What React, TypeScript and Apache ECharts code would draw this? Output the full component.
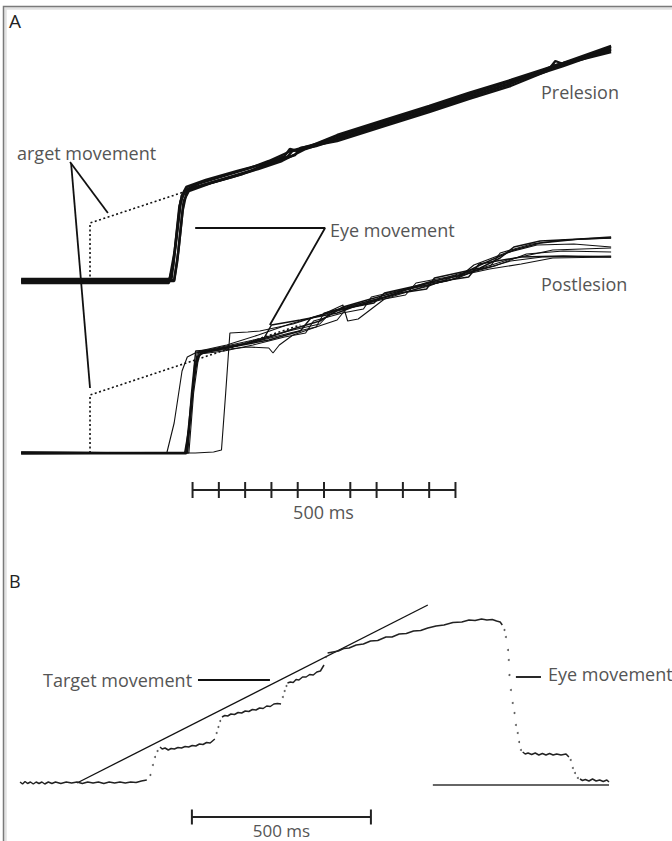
import React, { useEffect, useRef } from "react";
import * as echarts from "echarts";

// ---------- Panel A (time in ms from target onset, position in deg) ----------
const PRE_TARGET: number[][] = [[0, 0], [0, 5.8], [190, 9.1]];
const PRE_EYE: number[][][] = [
  [[-131, 0.1], [60, 0], [160, 0], [166, 2], [176, 7], [185, 9.2], [210, 9.8], [260, 10.6], [304, 11.3], [340, 12.0], [382, 13.0], [430, 13.7], [470, 14.5], [560, 16.0], [645, 17.4], [720, 18.7], [800, 20.0], [900, 21.7], [991, 23.4]],
  [[-131, -0.1], [60, -0.1], [150, 0], [158, 1.5], [170, 7.5], [180, 9.0], [210, 9.5], [260, 10.3], [304, 11.0], [350, 12.0], [375, 12.4], [385, 13.0], [430, 13.5], [470, 14.2], [560, 15.7], [645, 17.1], [720, 18.4], [800, 19.7], [880, 21.5], [991, 23.1]],
  [[-131, 0], [160, 0.1], [168, 3], [178, 8], [188, 9.0], [230, 9.8], [290, 10.7], [360, 12.1], [390, 12.6], [400, 13.3], [470, 14.0], [560, 15.5], [645, 16.9], [720, 18.2], [800, 19.5], [870, 21.0], [885, 22.0], [900, 21.7], [991, 22.9]],
  [[-131, 0.2], [155, 0.2], [164, 4], [174, 8.5], [183, 9.4], [220, 10.1], [280, 11.0], [330, 11.7], [370, 12.5], [380, 13.2], [395, 13.0], [470, 14.6], [560, 16.1], [645, 17.5], [720, 18.8], [800, 20.1], [900, 21.8], [991, 23.5]],
  [[-131, -0.2], [150, -0.2], [161, 3], [172, 8], [182, 9.1], [215, 9.6], [270, 10.4], [320, 11.2], [365, 12.0], [410, 13.2], [470, 14.3], [560, 15.8], [645, 17.2], [720, 18.5], [800, 19.8], [900, 21.5], [991, 23.2]],
];
const POST_TARGET: number[][] = [[0, 0], [0, 5.8], [400, 12.8]];
const POST_EYE: number[][][] = [
  [[-131, 0], [180, 0], [190, 3], [200, 8.5], [211, 10.1], [242, 10.4], [300, 11.0], [342, 11.6], [386, 12.4], [437, 13.2], [481, 14.6], [527, 15.3], [590, 16.2], [645, 17.1], [700, 17.7], [742, 18.8], [806, 20.3], [856, 21.0], [932, 21.4], [991, 21.5]],
  [[-131, 0.1], [182, 0], [192, 5], [203, 9.6], [215, 10.0], [270, 10.6], [340, 11.3], [400, 12.2], [420, 13.5], [470, 14.3], [540, 15.0], [560, 16.0], [645, 17.0], [720, 17.6], [740, 18.9], [820, 19.6], [900, 19.7], [991, 19.6]],
  [[-131, 0], [184, 0], [193, 6], [201, 10.2], [230, 10.3], [290, 10.9], [330, 11.4], [345, 12.8], [400, 13.3], [470, 14.0], [500, 14.6], [590, 16.0], [640, 16.4], [655, 17.5], [742, 18.5], [780, 19.5], [806, 20.6], [856, 21.2], [932, 21.4], [991, 21.6]],
  [[-131, -0.1], [146, 0], [160, 3], [175, 8.2], [185, 9.6], [200, 10.0], [260, 10.5], [320, 11.2], [380, 12.0], [430, 12.6], [445, 14.0], [500, 14.8], [560, 15.6], [620, 16.6], [700, 17.9], [760, 18.6], [800, 19.2], [860, 19.6], [991, 19.7]],
  [[-131, 0], [200, 0], [235, 0.1], [250, 0.3], [258, 6], [266, 12.0], [300, 12.1], [323, 12.2], [350, 12.5], [386, 12.9], [440, 13.8], [481, 14.8], [490, 13.2], [510, 13.4], [560, 15.4], [645, 16.8], [700, 17.5], [745, 18.5], [800, 19.4], [880, 20.3], [991, 20.5]],
  [[-131, 0], [186, 0.1], [195, 6], [206, 10.0], [250, 10.3], [300, 10.6], [340, 10.5], [348, 10.0], [360, 10.8], [386, 11.8], [430, 12.6], [470, 13.3], [490, 14.6], [560, 15.6], [645, 16.7], [690, 17.6], [760, 18.4], [820, 18.9], [880, 19.5], [991, 19.6]],
  [[-131, 0.1], [185, 0], [196, 7], [204, 10.1], [250, 10.6], [320, 11.4], [386, 12.3], [437, 12.9], [460, 14.2], [527, 15.0], [600, 16.3], [660, 17.0], [700, 17.5], [730, 18.8], [790, 20.0], [850, 20.8], [920, 20.9], [991, 20.6]],
  [[-131, 0], [188, 0], [197, 6], [208, 10.2], [260, 10.8], [320, 11.8], [380, 12.9], [440, 13.8], [500, 14.6], [560, 15.4], [600, 15.8], [620, 17.0], [700, 17.8], [760, 18.6], [780, 20.0], [840, 20.9], [900, 21.3], [991, 21.5]],
  [[-131, -0.1], [183, -0.1], [191, 4], [199, 9.0], [209, 9.9], [255, 10.2], [310, 10.8], [370, 11.6], [410, 12.0], [425, 13.2], [480, 14.0], [520, 14.4], [535, 15.6], [600, 16.4], [680, 17.2], [720, 18.0], [770, 18.7], [830, 19.9], [900, 20.2], [991, 20.1]],
];
const POST_OFFSET = -17.2;
const SCALE_A_TICKS = [195, 245, 295, 345, 395, 445, 495, 545, 595, 645, 695];
const SCALE_A_LEVEL = -20.9;

// Leader lines of panel A (data coordinates)
const LEAD_A_TARGET: number[][][] = [
  [[-38, 11.9], [34, 6.8]],
  [[-36, 11.8], [0, -10.7]],
];
const LEAD_A_EYE: number[][] = [[200, 5.3], [447, 5.3], [342, -4.4]];

// ---------- Panel B ----------
const B_TARGET_RAMP: number[][] = [[0, 0], [980, 17.8]];
const B_TARGET_OFF: number[][] = [[994, -0.2], [1486, -0.2]];
const B_EYE_SLOW: number[][][] = [
  [[-159, 0.1], [-152, -0.1], [-145, 0.15], [-138, -0.05], [-130, 0.1], [-122, -0.1], [-114, 0.1], [-106, -0.05], [-98, 0.1], [-90, -0.1], [-80, 0.1], [-70, -0.05], [-60, 0.1], [-45, -0.05], [-30, 0.1], [-15, 0], [0, 0.1], [15, -0.05], [30, 0.1], [45, 0], [60, 0.1], [75, -0.05], [90, 0.1], [105, 0], [120, 0.1], [135, 0], [150, 0.1], [165, 0.05], [180, 0.2], [195, 0.3]],
  [[232, 3.6], [238, 3.4], [246, 3.5], [255, 3.3], [263, 3.45], [272, 3.4], [282, 3.55], [292, 3.5], [302, 3.65], [312, 3.6], [322, 3.75], [332, 3.7], [342, 3.9], [352, 3.85], [362, 4.05], [372, 4.0], [385, 4.4]],
  [[405, 6.6], [413, 6.75], [421, 6.7], [430, 6.9], [440, 6.85], [450, 7.05], [460, 7.0], [470, 7.2], [480, 7.15], [490, 7.35], [500, 7.3], [510, 7.5], [520, 7.45], [530, 7.7], [540, 7.65], [550, 7.9], [560, 7.95], [570, 7.9]],
  [[588, 10.0], [596, 10.1], [604, 10.05], [612, 10.35], [620, 10.3], [630, 10.6], [640, 10.6], [650, 10.85], [660, 10.8], [670, 11.1], [680, 11.2], [690, 11.8]],
  [[700, 13.0], [715, 13.1], [730, 13.2], [745, 13.45], [760, 13.5], [780, 13.8], [800, 13.9], [820, 14.2], [840, 14.25], [863, 14.6], [880, 14.6], [900, 14.9], [920, 14.95], [940, 15.2], [960, 15.25], [980, 15.5], [1003, 15.7], [1025, 15.8], [1050, 16.05], [1075, 16.1], [1095, 16.3], [1112, 16.25], [1130, 16.4], [1145, 16.3], [1160, 16.35], [1172, 16.2], [1182, 16.1], [1188, 15.8]],
  [[1245, 3.1], [1252, 2.9], [1260, 3.0], [1270, 2.85], [1280, 3.0], [1290, 2.8], [1300, 2.95], [1310, 2.8], [1320, 2.95], [1330, 2.8], [1340, 2.9], [1352, 2.8], [1366, 2.9], [1374, 2.6]],
  [[1405, 0.4], [1412, 0.25], [1420, 0.35], [1430, 0.2], [1440, 0.4], [1450, 0.2], [1460, 0.3], [1470, 0.15], [1480, 0.3], [1486, 0.1]],
];
const B_EYE_FAST: number[][] = [
  [205, 0.8], [212, 1.8], [218, 2.6], [225, 3.2],
  [390, 5.0], [395, 5.6], [400, 6.2],
  [575, 8.6], [580, 9.2], [585, 9.7],
  [695, 12.6],
  [1194, 15.3], [1198, 14.6], [1204, 13.3], [1206, 12.3], [1208, 10.8], [1212, 9.3], [1217, 8.0], [1222, 7.0], [1226, 5.8], [1231, 5.0], [1235, 4.1], [1240, 3.3],
  [1379, 2.3], [1385, 1.5], [1391, 1.0], [1399, 0.5],
];
const LEAD_B_TARGET: number[][] = [[338, 10.3], [539, 10.3]];
const LEAD_B_EYE: number[][] = [[1226, 10.6], [1296, 10.6]];
const SCALE_B: number[] = [321, 821];
const SCALE_B_LEVEL = -3.4;

const FONT = '"Open Sans", "DejaVu Sans", sans-serif';

export default function App() {
  const ref = useRef<HTMLDivElement>(null);
  useEffect(() => {
    if (!ref.current) return;
    const chart = echarts.init(ref.current, undefined, { renderer: "svg" });
    const series: any[] = [];
    const line = (data: any[], xi: number, width: number, extra: any = {}) => {
      series.push({
        type: "line",
        data,
        xAxisIndex: xi,
        yAxisIndex: xi,
        symbol: "none",
        showSymbol: false,
        silent: true,
        lineStyle: { color: "#111", width, ...(extra.lineStyle || {}) },
        z: extra.z ?? 2,
      });
    };
    // Panel A
    PRE_EYE.forEach((t) => line(t, 0, 2.4));
    line(PRE_TARGET, 0, 1.6, { lineStyle: { type: [2, 2.5] } });
    POST_EYE.forEach((t, i) =>
      line(t.map(([x, y]) => [x, y + POST_OFFSET]), 0, i < 3 ? 1.5 : 1.1)
    );
    line(POST_TARGET.map(([x, y]) => [x, y + POST_OFFSET]), 0, 1.6, { lineStyle: { type: [2, 2.5] } });
    LEAD_A_TARGET.forEach((l) => line(l, 0, 1.8));
    line(LEAD_A_EYE, 0, 1.8);
    line([[SCALE_A_TICKS[0], SCALE_A_LEVEL], [SCALE_A_TICKS[SCALE_A_TICKS.length - 1], SCALE_A_LEVEL]], 0, 2, { lineStyle: { color: "#222" } });
    SCALE_A_TICKS.forEach((t) =>
      line([[t, SCALE_A_LEVEL + 0.8], [t, SCALE_A_LEVEL - 0.8]], 0, 2, { lineStyle: { color: "#222" } })
    );
    // Panel B
    line(B_TARGET_RAMP, 1, 1.3);
    line(B_TARGET_OFF, 1, 1.6, { lineStyle: { color: "#333" } });
    B_EYE_SLOW.forEach((s) => line(s, 1, 1.5, { lineStyle: { color: "#222" } }));
    series.push({
      type: "scatter",
      data: B_EYE_FAST,
      xAxisIndex: 1,
      yAxisIndex: 1,
      symbol: "circle",
      symbolSize: 2,
      silent: true,
      itemStyle: { color: "#333" },
    });
    line(LEAD_B_TARGET, 1, 1.8);
    line(LEAD_B_EYE, 1, 1.8);
    line([[SCALE_B[0], SCALE_B_LEVEL], [SCALE_B[1], SCALE_B_LEVEL]], 1, 2, { lineStyle: { color: "#222" } });
    SCALE_B.forEach((t) =>
      line([[t, SCALE_B_LEVEL + 0.75], [t, SCALE_B_LEVEL - 0.75]], 1, 2, { lineStyle: { color: "#222" } })
    );

    const txt = (text: string, x: number, y: number, size = 18, fill = "#555", align = "left") => ({
      type: "text",
      x,
      y,
      silent: true,
      style: { text, fill, font: `${size}px ${FONT}`, align, verticalAlign: "middle" },
    });

    chart.setOption({
      animation: false,
      backgroundColor: "#fff",
      grid: [
        { left: 0, right: 0, top: 0, height: 530, outerBoundsMode: "none" },
        { left: 0, right: 0, top: 541, height: 300, outerBoundsMode: "none" },
      ],
      xAxis: [
        { type: "value", gridIndex: 0, min: -171.2, max: 1106.8, show: false },
        { type: "value", gridIndex: 1, min: -215, max: 1662, show: false },
      ],
      yAxis: [
        { type: "value", gridIndex: 0, min: -24.9, max: 28.1, show: false },
        { type: "value", gridIndex: 1, min: -5.8, max: 24.2, show: false },
      ],
      series,
      graphic: [
        { type: "rect", silent: true, shape: { x: 5.5, y: 8.5, width: 700, height: 900 }, style: { fill: "none", stroke: "#e2e2e2", lineWidth: 2.5 } },
        { type: "rect", silent: true, shape: { x: 3.5, y: 6.5, width: 700, height: 900 }, style: { fill: "none", stroke: "#7a7a7a", lineWidth: 1.5 } },
        txt("A", 9, 21, 19, "#222"),
        txt("B", 9, 581, 18, "#222"),
        txt("Prelesion", 541, 92),
        txt("Postlesion", 541, 284),
        txt("arget movement", 17, 153),
        txt("Eye movement", 330, 230),
        txt("500 ms", 323.5, 512, 18, "#555", "center"),
        txt("Target movement", 43, 680),
        txt("Eye movement", 548, 674),
        txt("500 ms", 281.5, 830, 17, "#555", "center"),
      ],
    });
    return () => chart.dispose();
  }, []);
  return <div ref={ref} style={{ position: "fixed", left: 0, top: 0, width: 672, height: 841 }} />;
}
